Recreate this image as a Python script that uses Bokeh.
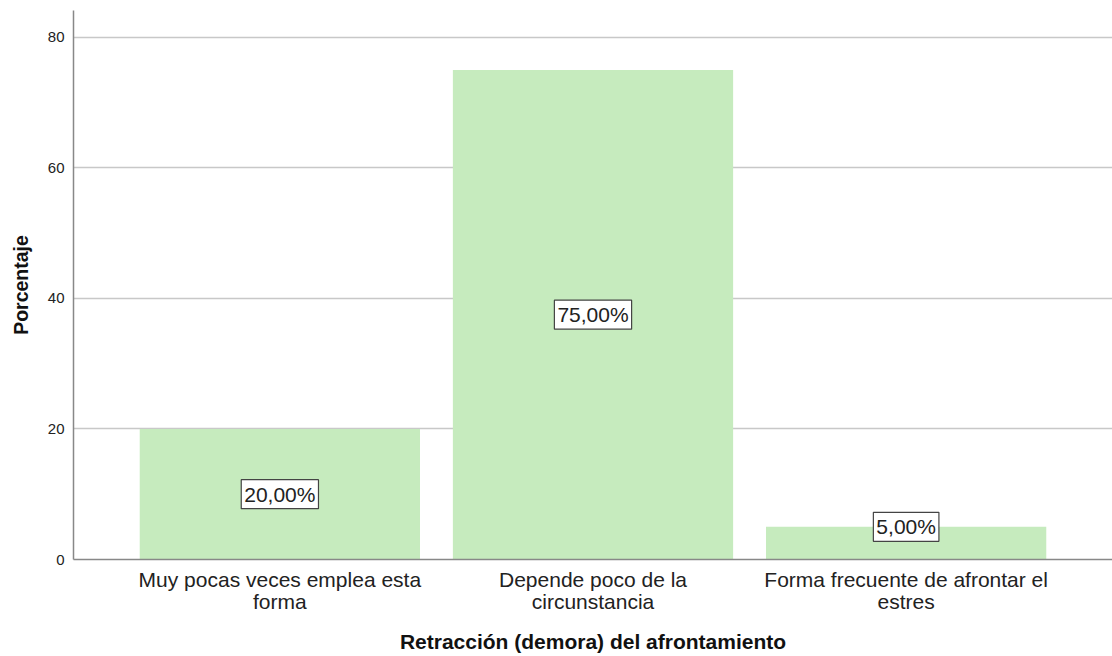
from bokeh.plotting import figure
from bokeh.models import ColumnDataSource, FactorRange, Range1d, FixedTicker, CategoricalAxis
from bokeh.core.properties import value
from bokeh.embed import file_html
from bokeh.resources import INLINE

categories = ["Muy pocas veces emplea esta forma",
              "Depende poco de la circunstancia",
              "Forma frecuente de afrontar el estres"]
tick_line1 = ["Muy pocas veces emplea esta",
              "Depende poco de la",
              "Forma frecuente de afrontar el"]
tick_line2 = ["forma", "circunstancia", "estres"]
values = [20.0, 75.0, 5.0]
value_texts = ["20,00%", "75,00%", "5,00%"]
y_ticks = [0, 20, 40, 60, 80]

FONT = "Liberation Sans"
PAD = 0.106

label_y = [v / 2 if v >= 10 else v for v in values]
src = ColumnDataSource(dict(cat=categories, val=values, txt=value_texts, ly=label_y))

p = figure(width=1112, height=656, output_backend="svg", toolbar_location=None,
           x_range=FactorRange(factors=categories, range_padding=PAD),
           y_range=Range1d(0, 84.1),
           min_border_left=73, min_border_right=0, min_border_top=10, min_border_bottom=97)
p.extra_x_ranges = {"l1": FactorRange(factors=tick_line1, range_padding=PAD),
                    "l2": FactorRange(factors=tick_line2, range_padding=PAD)}
p.outline_line_color = None
p.background_fill_color = "white"
p.border_fill_color = "white"

p.vbar(x="cat", top="val", width=0.895, source=src, fill_color="#c6ebbe", line_color=None)

p.text(x="cat", y="ly", text="txt", source=src, text_align="center",
       text_baseline="middle", text_font=value(FONT), text_font_size="21px",
       text_color="#222222", background_fill_color="white",
       border_line_color="#444444", border_line_width=1.2, padding=3)

p.xgrid.grid_line_color = None
p.ygrid.grid_line_color = "#c8c8c8"
p.ygrid.grid_line_width = 1.3
p.ygrid.ticker = FixedTicker(ticks=y_ticks[1:])

p.yaxis.ticker = FixedTicker(ticks=y_ticks)
p.yaxis.axis_label = "Porcentaje"
p.yaxis.axis_label_text_font = FONT
p.yaxis.axis_label_text_font_style = "bold"
p.yaxis.axis_label_text_font_size = "19.5px"
p.yaxis.axis_label_text_color = "#111111"
p.yaxis.axis_label_standoff = 13
p.yaxis.major_label_text_font = FONT
p.yaxis.major_label_text_font_size = "15px"
p.yaxis.major_label_text_color = "#222222"
p.yaxis.major_label_standoff = 9
p.yaxis.major_tick_out = 0
p.yaxis.major_tick_in = 0
p.yaxis.major_tick_line_color = None
p.yaxis.minor_tick_line_color = None
p.yaxis.axis_line_color = "#888888"
p.yaxis.axis_line_width = 1.5

# main x axis hidden; the category labels are drawn in two lines by two axes
p.xaxis[0].visible = False

xa1 = CategoricalAxis(x_range_name="l1", axis_line_color="#888888", axis_line_width=1.5,
                      major_tick_line_color=None, minor_tick_line_color=None,
                      major_tick_out=0, major_tick_in=0, major_label_standoff=8,
                      major_label_text_font=FONT, major_label_text_font_size="21px",
                      major_label_text_color="#222222")
p.add_layout(xa1, "below")

xa2 = CategoricalAxis(x_range_name="l2", axis_line_color=None, major_tick_line_color=None,
                      minor_tick_line_color=None, major_tick_out=0, major_tick_in=0,
                      major_label_standoff=-4,
                      major_label_text_font=FONT, major_label_text_font_size="21px",
                      major_label_text_color="#222222",
                      axis_label="Retracción (demora) del afrontamiento",
                      axis_label_text_font=FONT, axis_label_text_font_style="bold",
                      axis_label_text_font_size="21px", axis_label_text_color="#111111",
                      axis_label_standoff=14)
p.add_layout(xa2, "below")

open("out.html", "w").write(file_html(p, INLINE))
